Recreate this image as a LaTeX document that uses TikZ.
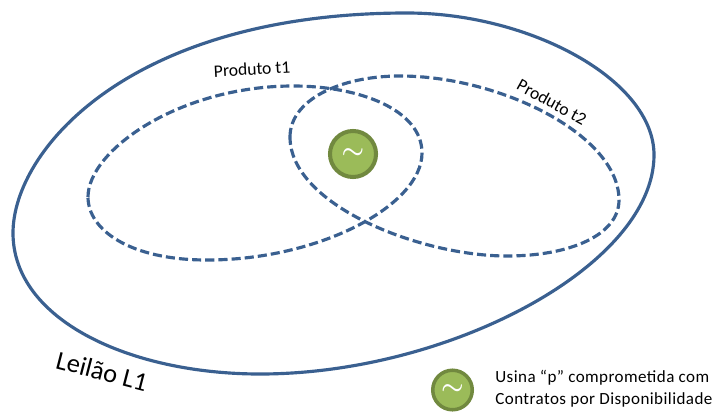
\documentclass[tikz,border=0pt]{standalone}
\usepackage{fontspec}
\setmainfont{Carlito}
\newfontfamily\legendafont[LetterSpace=2.5]{Carlito}
\usepackage{xcolor}
\definecolor{linhablue}{HTML}{3A6090}
\definecolor{usinagreen}{HTML}{9BBB59}
\definecolor{usinaborder}{HTML}{71893F}
\tikzset{
  conjunto/.style={draw=linhablue,line width=1.8pt},
  produto/.style={conjunto,dash pattern=on 5.2pt off 2.3pt},
  usina/.style={circle,draw=usinaborder,fill=usinagreen,line width=2.3pt,minimum size=26.2pt,inner sep=0pt,
    text=white,font=\fontsize{13.5}{14}\selectfont\boldmath},
  rotulo/.style={inner sep=0pt,font=\fontsize{10}{11}\selectfont}
}
\begin{document}
\begin{tikzpicture}[x=0.02cm,y=-0.02cm]
    \useasboundingbox (0,0) rectangle (715,412);
    % Leilao
    \draw [conjunto] (13,233) .. controls (13,150) and (130,13) .. (407,13)
      .. controls (530,13) and (654,80) .. (654,155)
      .. controls (654,265) and (450,374) .. (260,374)
      .. controls (130,374) and (13,320) .. (13,233) -- cycle;
    % produtos
    \draw [produto] (88,197) .. controls (88,150) and (180,86) .. (293,86)
      .. controls (360,86) and (422,110) .. (422,153)
      .. controls (422,205) and (320,260) .. (207,260)
      .. controls (130,260) and (88,230) .. (88,197) -- cycle;
    \draw [produto] (290,137) .. controls (290,100) and (340,76) .. (400,76)
      .. controls (500,76) and (619,135) .. (619,200)
      .. controls (619,235) and (570,256) .. (507,256)
      .. controls (420,256) and (290,205) .. (290,137) -- cycle;
    \node [usina] (usina1) at (353,154) {$\sim$};
    \node [rotulo,rotate=3] (rotulot1) at (252,69) {Produto t1};
    \node [rotulo,rotate=-29] (rotulot2) at (552,102) {Produto t2};
    \node [rotulo,rotate=-14.5,font=\fontsize{15}{16}\selectfont] (rotulol1) at (102,371) {Leilão L1};
    \node [usina,line width=2pt,minimum size=22.5pt] (usina2) at (452.5,390) {$\sim$};
    \node [rotulo,anchor=west,align=left,font=\fontsize{9.7}{12.5}\selectfont\legendafont] (legenda) at (495,389)
      {Usina “p” comprometida com\\Contratos por Disponibilidade};
\end{tikzpicture}
\end{document}
